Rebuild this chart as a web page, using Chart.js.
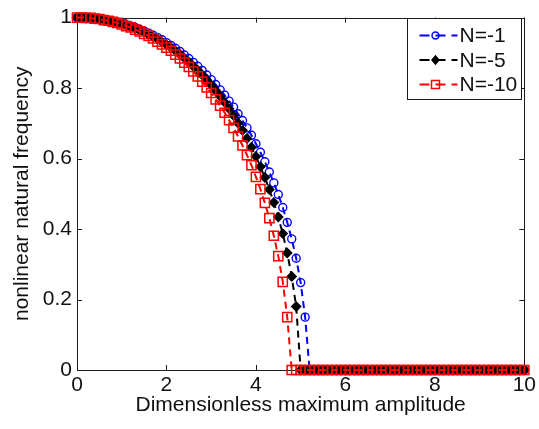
<!DOCTYPE html>
<html>
<head>
<meta charset="utf-8">
<script src="https://cdn.jsdelivr.net/npm/chart.js@4.4.0/dist/chart.umd.min.js"></script>
<style>
  html, body { margin: 0; padding: 0; background: #fff; }
  #wrap { width: 539px; height: 429px; position: relative; }
</style>
</head>
<body>
<div id="wrap"><canvas id="freqChart"></canvas></div>
<script>
// ------------------------------
// data
// ------------------------------
const amplitude = [
  0.0, 0.1, 0.2, 0.3, 0.4, 0.5, 0.6, 0.7, 0.8, 0.9,
  1.0, 1.1, 1.2, 1.3, 1.4, 1.5, 1.6, 1.7, 1.8, 1.9,
  2.0, 2.1, 2.2, 2.3, 2.4, 2.5, 2.6, 2.7, 2.8, 2.9,
  3.0, 3.1, 3.2, 3.3, 3.4, 3.5, 3.6, 3.7, 3.8, 3.9,
  4.0, 4.1, 4.2, 4.3, 4.4, 4.5, 4.6, 4.7, 4.8, 4.9,
  5.0, 5.1, 5.2, 5.3, 5.4, 5.5, 5.6, 5.7, 5.8, 5.9,
  6.0, 6.1, 6.2, 6.3, 6.4, 6.5, 6.6, 6.7, 6.8, 6.9,
  7.0, 7.1, 7.2, 7.3, 7.4, 7.5, 7.6, 7.7, 7.8, 7.9,
  8.0, 8.1, 8.2, 8.3, 8.4, 8.5, 8.6, 8.7, 8.8, 8.9,
  9.0, 9.1, 9.2, 9.3, 9.4, 9.5, 9.6, 9.7, 9.8, 9.9,
  10.0
];

const freqN1 = [
  1.000, 1.000, 0.999, 0.999, 0.998, 0.996, 0.995, 0.992, 0.990, 0.987,
  0.984, 0.980, 0.976, 0.972, 0.967, 0.962, 0.956, 0.950, 0.944, 0.937,
  0.929, 0.921, 0.913, 0.904, 0.894, 0.884, 0.873, 0.862, 0.850, 0.837,
  0.824, 0.810, 0.795, 0.780, 0.763, 0.746, 0.727, 0.708, 0.687, 0.666,
  0.642, 0.618, 0.591, 0.562, 0.531, 0.498, 0.461, 0.419, 0.372, 0.317,
  0.248, 0.150, 0, 0, 0, 0, 0, 0, 0, 0,
  0, 0, 0, 0, 0, 0, 0, 0, 0, 0,
  0, 0, 0, 0, 0, 0, 0, 0, 0, 0,
  0, 0, 0, 0, 0, 0, 0, 0, 0, 0,
  0, 0, 0, 0, 0, 0, 0, 0, 0, 0,
  0
];

const freqN5 = [
  1.000, 1.000, 0.999, 0.999, 0.998, 0.996, 0.994, 0.992, 0.989, 0.986,
  0.983, 0.978, 0.974, 0.969, 0.964, 0.959, 0.952, 0.946, 0.939, 0.931,
  0.923, 0.915, 0.906, 0.896, 0.885, 0.874, 0.862, 0.850, 0.837, 0.823,
  0.809, 0.793, 0.777, 0.760, 0.741, 0.722, 0.701, 0.680, 0.657, 0.632,
  0.606, 0.577, 0.546, 0.512, 0.475, 0.434, 0.387, 0.332, 0.265, 0.180,
  0, 0, 0, 0, 0, 0, 0, 0, 0, 0,
  0, 0, 0, 0, 0, 0, 0, 0, 0, 0,
  0, 0, 0, 0, 0, 0, 0, 0, 0, 0,
  0, 0, 0, 0, 0, 0, 0, 0, 0, 0,
  0, 0, 0, 0, 0, 0, 0, 0, 0, 0,
  0
];

const freqN10 = [
  1.000, 1.000, 0.999, 0.999, 0.997, 0.996, 0.993, 0.991, 0.988, 0.985,
  0.981, 0.976, 0.972, 0.966, 0.961, 0.954, 0.948, 0.941, 0.932, 0.924,
  0.915, 0.906, 0.895, 0.884, 0.872, 0.860, 0.847, 0.833, 0.818, 0.802,
  0.786, 0.768, 0.750, 0.730, 0.709, 0.687, 0.663, 0.637, 0.610, 0.581,
  0.548, 0.513, 0.474, 0.431, 0.381, 0.323, 0.250, 0.150, 0, 0,
  0, 0, 0, 0, 0, 0, 0, 0, 0, 0,
  0, 0, 0, 0, 0, 0, 0, 0, 0, 0,
  0, 0, 0, 0, 0, 0, 0, 0, 0, 0,
  0, 0, 0, 0, 0, 0, 0, 0, 0, 0,
  0, 0, 0, 0, 0, 0, 0, 0, 0, 0,
  0
];

const seriesNames = ["N=-1", "N=-5", "N=-10"];
const xTicks = [0, 2, 4, 6, 8, 10];
const yTicks = [0, 0.2, 0.4, 0.6, 0.8, 1];
const xTitle = "Dimensionless maximum amplitude";
const yTitle = "nonlinear natural frequency";

const FONT = "'Liberation Sans', Arial, sans-serif";
const FSIZE = 21;

function toPoints(ys) {
  return amplitude.map((x, i) => ({ x: x, y: ys[i] }));
}

// ------------------------------
// MATLAB style box + inward ticks
// ------------------------------
const boxPlugin = {
  id: "matlabBox",
  beforeDatasetsDraw(chart) {
    const { ctx, chartArea: a, scales } = chart;
    const tl = 5;
    ctx.save();
    ctx.strokeStyle = "#1a1a1a";
    ctx.lineWidth = 1;
    ctx.beginPath();
    xTicks.forEach(v => {
      const px = Math.round(scales.x.getPixelForValue(v)) + 0.5;
      ctx.moveTo(px, a.bottom); ctx.lineTo(px, a.bottom - tl);
      ctx.moveTo(px, a.top); ctx.lineTo(px, a.top + tl);
    });
    yTicks.forEach(v => {
      const py = Math.round(scales.y.getPixelForValue(v)) + 0.5;
      ctx.moveTo(a.left, py); ctx.lineTo(a.left + tl, py);
      ctx.moveTo(a.right, py); ctx.lineTo(a.right - tl, py);
    });
    ctx.stroke();
    ctx.strokeRect(Math.round(a.left) + 0.5, Math.round(a.top) + 0.5,
      Math.round(a.right - a.left), Math.round(a.bottom - a.top));
    ctx.restore();
  }
};

function drawMarker(ctx, style, x, y, color) {
  ctx.save();
  ctx.setLineDash([]);
  ctx.strokeStyle = color;
  ctx.lineWidth = 1.5;
  ctx.beginPath();
  if (style === "circle") {
    ctx.arc(x, y, 3.5, 0, Math.PI * 2);
  } else if (style === "rectRot") {
    ctx.moveTo(x, y - 4); ctx.lineTo(x + 3.5, y); ctx.lineTo(x, y + 4); ctx.lineTo(x - 3.5, y);
    ctx.closePath();
    ctx.fillStyle = color;
    ctx.fill();
  } else {
    ctx.rect(x - 4, y - 4, 8, 8);
  }
  ctx.stroke();
  ctx.restore();
}

// ------------------------------
// legend: line + marker like MATLAB
// ------------------------------
const legendPlugin = {
  id: "matlabLegend",
  afterDraw(chart) {
    const { ctx, chartArea: a } = chart;
    const w = 114, h = 81;
    const bx = Math.round(a.right - w - 3) + 0.5;
    const by = Math.round(a.top) + 0.5;
    ctx.save();
    ctx.fillStyle = "#fff";
    ctx.fillRect(bx, by, w, h);
    ctx.strokeStyle = "#1a1a1a";
    ctx.lineWidth = 1;
    ctx.strokeRect(bx, by, w, h);
    ctx.font = FSIZE + "px " + FONT;
    ctx.textBaseline = "middle";
    chart.data.datasets.forEach((ds, i) => {
      const y = by + 17 + i * 24.5;
      ctx.strokeStyle = ds.borderColor;
      ctx.lineWidth = 2;
      ctx.setLineDash([10, 6]);
      ctx.beginPath();
      ctx.moveTo(bx + 12, y);
      ctx.lineTo(bx + 50, y);
      ctx.stroke();
      drawMarker(ctx, ds.pointStyle, bx + 28, y, ds.borderColor);
      ctx.fillStyle = "#111";
      ctx.fillText(ds.label, bx + 52, y + 1);
    });
    ctx.restore();
  }
};

const datasets = [
  {
    label: seriesNames[0],
    data: toPoints(freqN1),
    borderColor: "#0000ff",
    pointStyle: "circle",
    pointRadius: 4,
    pointBorderWidth: 1.4,
    pointBackgroundColor: "rgba(0,0,0,0)",
    order: 3
  },
  {
    label: seriesNames[1],
    data: toPoints(freqN5),
    borderColor: "#000000",
    pointStyle: "rectRot",
    pointRadius: 4.5,
    pointBorderWidth: 1.4,
    pointBackgroundColor: "#000000",
    order: 2
  },
  {
    label: seriesNames[2],
    data: toPoints(freqN10),
    borderColor: "#ff0000",
    pointStyle: "rect",
    pointRadius: 6.5,
    pointBorderWidth: 1.5,
    pointBackgroundColor: "rgba(0,0,0,0)",
    order: 1
  }
].map(d => Object.assign({
  borderWidth: 2,
  borderDash: [7, 5],
  pointBorderColor: d.borderColor,
  fill: false,
  tension: 0,
  clip: false
}, d));

new Chart(document.getElementById("freqChart"), {
  type: "line",
  data: { datasets: datasets },
  options: {
    responsive: true,
    maintainAspectRatio: false,
    animation: false,
    layout: { padding: { top: 16, right: 12, left: 0, bottom: 0 } },
    plugins: {
      legend: { display: false },
      tooltip: { enabled: false }
    },
    scales: {
      x: {
        type: "linear",
        min: 0,
        max: 10,
        afterBuildTicks: s => { s.ticks = xTicks.map(v => ({ value: v })); },
        afterFit: s => { s.height = 59; },
        grid: { display: false, drawTicks: false },
        border: { display: false },
        ticks: {
          color: "#111",
          font: { family: FONT, size: FSIZE },
          padding: 3,
          maxRotation: 0,
          callback: v => String(v)
        },
        title: {
          display: true,
          text: xTitle,
          color: "#111",
          font: { family: FONT, size: FSIZE },
          padding: { top: 0, bottom: 11 }
        }
      },
      y: {
        type: "linear",
        min: 0,
        max: 1,
        afterBuildTicks: s => { s.ticks = yTicks.map(v => ({ value: v })); },
        afterFit: s => { s.width = 77; },
        grid: { display: false, drawTicks: false },
        border: { display: false },
        ticks: {
          color: "#111",
          font: { family: FONT, size: FSIZE },
          padding: 5,
          callback: v => String(v)
        },
        title: {
          display: true,
          text: yTitle,
          color: "#111",
          font: { family: FONT, size: FSIZE },
          padding: { top: 10, bottom: 0 }
        }
      }
    }
  },
  plugins: [boxPlugin, legendPlugin]
});
</script>
</body>
</html>
